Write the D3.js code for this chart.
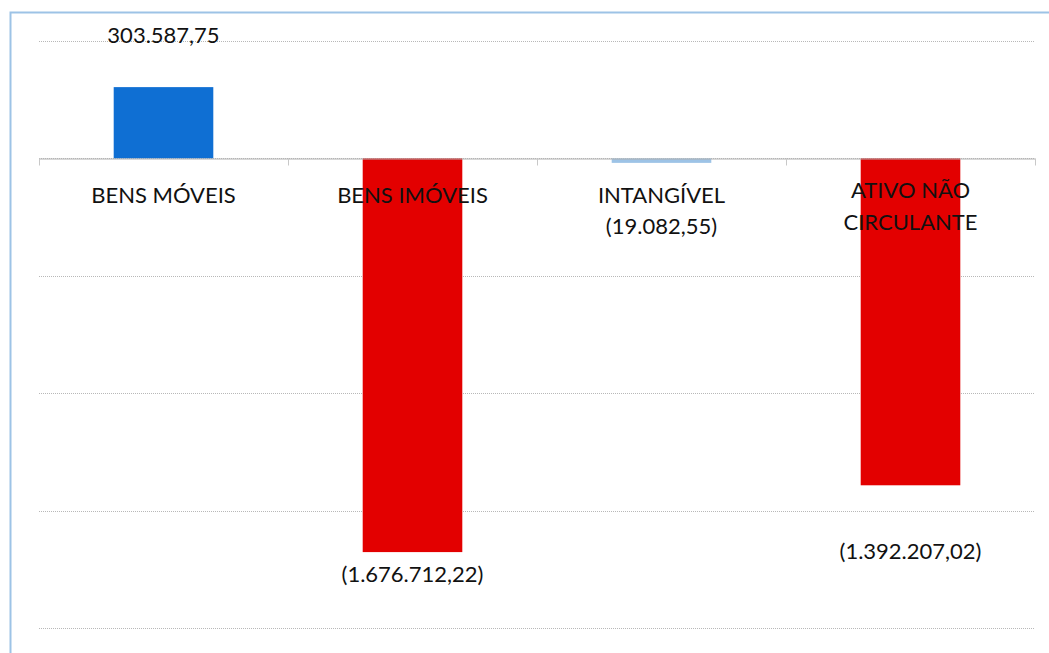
<!DOCTYPE html>
<html>
<head>
<meta charset="utf-8">
<script src="https://cdn.jsdelivr.net/npm/d3@7"></script>
<style>
  html, body { margin: 0; padding: 0; background: #fff; }
  svg { display: block; font-family: Lato, "Open Sans", sans-serif; }
</style>
</head>
<body>
<svg id="chart" width="1049" height="653"></svg>
<script>
const categories = ["BENS MÓVEIS", "BENS IMÓVEIS", "INTANGÍVEL", "ATIVO NÃO CIRCULANTE"];
const values = [303587.75, -1676712.22, -19082.55, -1392207.02];
const valueLabels = ["303.587,75", "(1.676.712,22)", "(19.082,55)", "(1.392.207,02)"];
const gridTicks = [500000, 0, -500000, -1000000, -1500000, -2000000];

// label placement (dy from the bar end), roughly as Excel left them
const labelDy = [-50, 24, 66, 68];

const width = 1049, height = 653;
const margin = { top: 41, right: 14, bottom: 25, left: 39 };

const svg = d3.select("#chart");

svg.append("rect")
  .attr("x", 10.5).attr("y", 12.5)
  .attr("width", width).attr("height", height)
  .attr("fill", "none")
  .attr("stroke", "#9dc3e6")
  .attr("stroke-width", 2);

const x = d3.scaleBand()
  .domain(categories)
  .range([margin.left, width - margin.right])
  .paddingInner(0.6)
  .paddingOuter(0.3);

const y = d3.scaleLinear()
  .domain([-2000000, 500000])
  .range([height - margin.bottom, margin.top]);

// gridlines
svg.append("g")
  .selectAll("line")
  .data(gridTicks)
  .join("line")
  .attr("x1", margin.left)
  .attr("x2", width - margin.right)
  .attr("y1", (d) => Math.round(y(d)) + 0.5)
  .attr("y2", (d) => Math.round(y(d)) + 0.5)
  .attr("stroke", "#b8b8b8")
  .attr("stroke-width", 1)
  .attr("stroke-dasharray", "1,1");

// bars
const color = (d, i) => (d >= 0 ? "#0f6fd3" : i === 2 ? "#9dc3e6" : "#e30000");
svg.append("g")
  .selectAll("rect")
  .data(values)
  .join("rect")
  .attr("x", (d, i) => x(categories[i]))
  .attr("width", x.bandwidth())
  .attr("y", (d) => y(Math.max(0, d)))
  .attr("height", (d) => Math.abs(y(d) - y(0)))
  .attr("fill", color);

// category axis at zero
const xAxis = d3.axisBottom(x).tickSize(0).tickFormat("");
const axisG = svg.append("g")
  .attr("transform", `translate(0,${Math.round(y(0)) + 0.5})`)
  .call(xAxis);
axisG.select(".domain").attr("stroke", "#b0b0b0");

const bounds = d3.range(categories.length + 1).map((i) => margin.left + i * (width - margin.right - margin.left) / categories.length);
axisG.selectAll(".sep")
  .data(bounds)
  .join("line")
  .attr("x1", (d) => Math.round(d) + 0.5)
  .attr("x2", (d) => Math.round(d) + 0.5)
  .attr("y1", 0)
  .attr("y2", 7)
  .attr("stroke", "#c8c8c8");

// category labels
const catText = svg.append("g")
  .selectAll("text")
  .data(categories)
  .join("text")
  .attr("x", (d) => x(d) + x.bandwidth() / 2)
  .attr("y", y(0) + 45)
  .attr("text-anchor", "middle")
  .attr("font-size", 22)
  .attr("fill", "#111");

catText.each(function (d) {
  const t = d3.select(this);
  const words = d === "ATIVO NÃO CIRCULANTE" ? ["ATIVO NÃO", "CIRCULANTE"] : [d];
  words.forEach((w, k) => {
    t.append("tspan")
      .attr("x", t.attr("x"))
      .attr("dy", k === 0 ? (words.length > 1 ? -5 : 0) : 32)
      .text(w);
  });
});

// value labels
svg.append("g")
  .selectAll("text")
  .data(values)
  .join("text")
  .attr("x", (d, i) => x(categories[i]) + x.bandwidth() / 2)
  .attr("y", (d, i) => y(d) + labelDy[i])
  .attr("text-anchor", "middle")
  .attr("dominant-baseline", "middle")
  .attr("font-size", 22)
  .attr("fill", "#111")
  .text((d, i) => valueLabels[i]);
</script>
</body>
</html>
